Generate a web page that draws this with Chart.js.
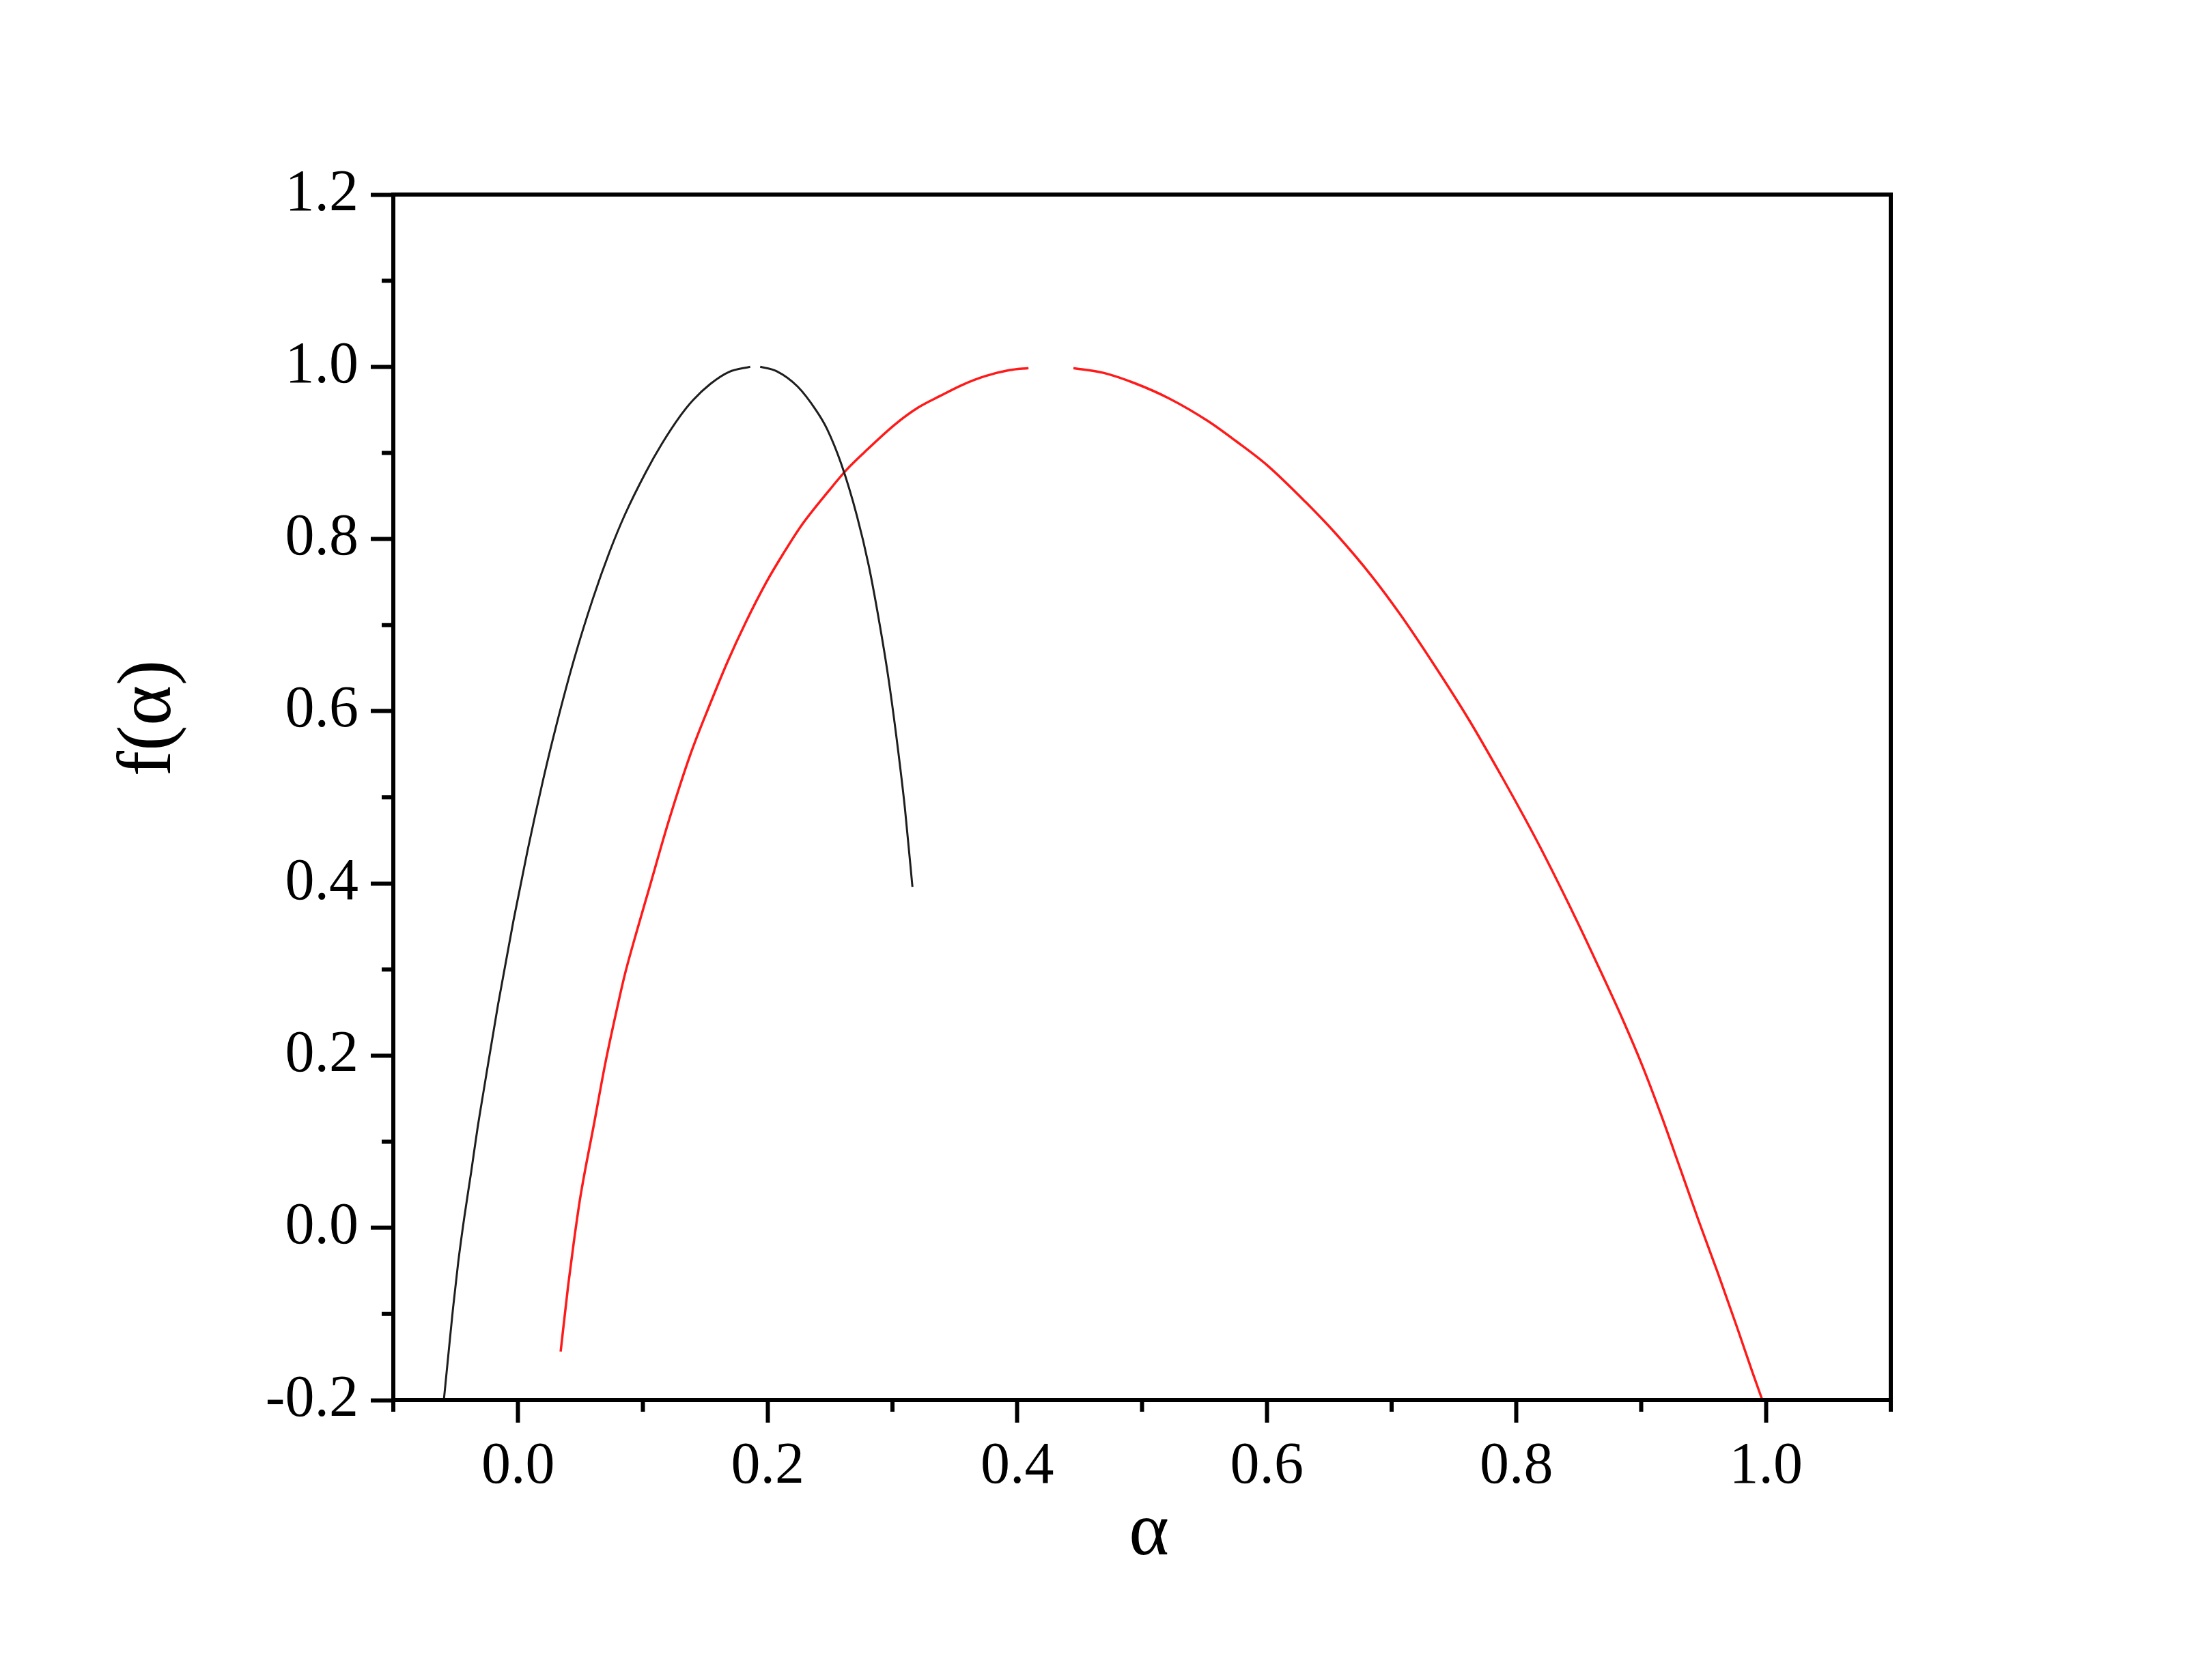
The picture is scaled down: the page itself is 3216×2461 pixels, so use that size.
<!DOCTYPE html>
<html>
<head>
<meta charset="utf-8">
<title>f(α) spectrum</title>
<script src="https://cdn.jsdelivr.net/npm/chart.js@4.4.0/dist/chart.umd.min.js"></script>
<style>
  html, body { margin: 0; padding: 0; background: #fff; }
  #wrap { width: 3216px; height: 2461px; position: relative; }
</style>
</head>
<body>
<div id="wrap"><canvas id="chart"></canvas></div>
<script>
// values (null = gap in the curve at the top)
const blackAlpha = [-0.0595, -0.0558, -0.0522, -0.048, -0.0431, -0.0376, -0.0327, -0.0274, -0.016, -0.0037,
  0.0074, 0.020, 0.030, 0.045, 0.060, 0.073, 0.0855, 0.1025, 0.115, 0.130,
  0.140, 0.154, 0.169, 0.186,
  0.190,
  0.194, 0.207, 0.224, 0.239, 0.2475, 0.259, 0.2715, 0.281, 0.2895, 0.2965, 0.303, 0.310, 0.316];
const blackF = [-0.200, -0.146, -0.094, -0.040, 0.0125, 0.065, 0.114, 0.161, 0.260, 0.357,
  0.437, 0.520, 0.580, 0.661, 0.731, 0.784, 0.828, 0.878, 0.910, 0.943,
  0.961, 0.980, 0.994, 1.000,
  null,
  1.000, 0.995, 0.977, 0.949, 0.928, 0.887, 0.827, 0.769, 0.703, 0.641, 0.572, 0.487, 0.396];

const redAlpha = [0.0341, 0.0401, 0.0445, 0.0499, 0.061, 0.070, 0.0787, 0.0855, 0.0954,
  0.105, 0.1206, 0.1386, 0.154, 0.168, 0.182, 0.199, 0.2125, 0.2267, 0.249,
  0.263, 0.277, 0.302, 0.321, 0.338, 0.356, 0.374, 0.3935, 0.409,
  0.427,
  0.445, 0.469, 0.494, 0.522, 0.5528, 0.575, 0.600, 0.631, 0.656, 0.684,
  0.7066, 0.734, 0.762, 0.7887, 0.807, 0.8216, 0.849, 0.8675, 0.8855, 0.901,
  0.916, 0.931, 0.946, 0.9616, 0.9767, 0.989, 0.9966];
const redF = [-0.1436, -0.067, -0.018, 0.036, 0.122, 0.192, 0.251, 0.294, 0.346,
  0.394, 0.472, 0.552, 0.609, 0.658, 0.702, 0.750, 0.783, 0.815, 0.856,
  0.880, 0.900, 0.933, 0.953, 0.966, 0.979, 0.989, 0.996, 0.9985,
  null,
  0.9985, 0.993, 0.981, 0.963, 0.937, 0.914, 0.886, 0.843, 0.805, 0.757,
  0.713, 0.654, 0.590, 0.523, 0.475, 0.435, 0.355, 0.298, 0.241, 0.188,
  0.131, 0.070, 0.0085, -0.053, -0.115, -0.167, -0.198];

const xMajorTicks = [0.0, 0.2, 0.4, 0.6, 0.8, 1.0];
const xMinorTicks = [-0.1, 0.1, 0.3, 0.5, 0.7, 0.9, 1.1];
const yMajorTicks = [-0.2, 0.0, 0.2, 0.4, 0.6, 0.8, 1.0, 1.2];
const yMinorTicks = [-0.1, 0.1, 0.3, 0.5, 0.7, 0.9, 1.1];

const xTitle = 'α';
const yTitle = 'f(α)';

const FONT = "'Liberation Serif', 'Times New Roman', serif";
Chart.defaults.font.family = FONT;
Chart.defaults.color = '#000';

function toPoints(xs, ys) {
  return xs.map((x, i) => ({ x: x, y: ys[i] }));
}

// frame, minor ticks and axis titles
const framePlugin = {
  id: 'frame',
  afterDraw(chart) {
    const { ctx, chartArea: a, scales } = chart;
    ctx.save();
    ctx.strokeStyle = '#000';
    ctx.lineWidth = 6;
    ctx.strokeRect(a.left, a.top, a.right - a.left, a.bottom - a.top);

    ctx.beginPath();
    xMinorTicks.forEach(v => {
      const px = scales.x.getPixelForValue(v);
      ctx.moveTo(px, a.bottom);
      ctx.lineTo(px, a.bottom + 17);
    });
    yMinorTicks.forEach(v => {
      const py = scales.y.getPixelForValue(v);
      ctx.moveTo(a.left, py);
      ctx.lineTo(a.left - 17, py);
    });
    ctx.stroke();

    ctx.fillStyle = '#000';
    ctx.font = '112px ' + FONT;
    ctx.textAlign = 'center';
    ctx.textBaseline = 'alphabetic';
    ctx.fillText(xTitle, (a.left + a.right) / 2 + 10, 2277);

    ctx.translate(249, 1052);
    ctx.rotate(-Math.PI / 2);
    ctx.fillText(yTitle, 0, 0);
    ctx.restore();
  }
};

new Chart(document.getElementById('chart'), {
  type: 'scatter',
  data: {
    datasets: [
      {
        data: toPoints(blackAlpha, blackF),
        showLine: true,
        borderColor: '#1e1e1e',
        borderWidth: 3,
        pointRadius: 0,
        cubicInterpolationMode: 'monotone',
        spanGaps: false
      },
      {
        data: toPoints(redAlpha, redF),
        showLine: true,
        borderColor: '#ff1a1a',
        borderWidth: 3.5,
        pointRadius: 0,
        cubicInterpolationMode: 'monotone',
        spanGaps: false
      }
    ]
  },
  options: {
    responsive: true,
    maintainAspectRatio: false,
    devicePixelRatio: 1,
    animation: false,
    layout: { padding: { left: 0, top: 285, right: 447, bottom: 0 } },
    plugins: {
      legend: { display: false },
      tooltip: { enabled: false }
    },
    scales: {
      x: {
        type: 'linear',
        min: -0.1,
        max: 1.1,
        afterBuildTicks: s => { s.ticks = xMajorTicks.map(v => ({ value: v })); },
        afterFit: s => { s.height = 410; },
        border: { display: false },
        grid: { drawOnChartArea: false, drawTicks: true, tickLength: 33, tickWidth: 6, tickColor: '#000' },
        ticks: {
          padding: 14,
          font: { size: 86, family: FONT },
          color: '#000',
          maxRotation: 0,
          callback: v => v.toFixed(1)
        }
      },
      y: {
        type: 'linear',
        min: -0.2,
        max: 1.2,
        afterBuildTicks: s => { s.ticks = yMajorTicks.map(v => ({ value: v })); },
        afterFit: s => { s.width = 576; },
        border: { display: false },
        grid: { drawOnChartArea: false, drawTicks: true, tickLength: 33, tickWidth: 6, tickColor: '#000' },
        ticks: {
          padding: 18,
          font: { size: 86, family: FONT },
          color: '#000',
          callback: v => v.toFixed(1)
        }
      }
    }
  },
  plugins: [framePlugin]
});
</script>
</body>
</html>
